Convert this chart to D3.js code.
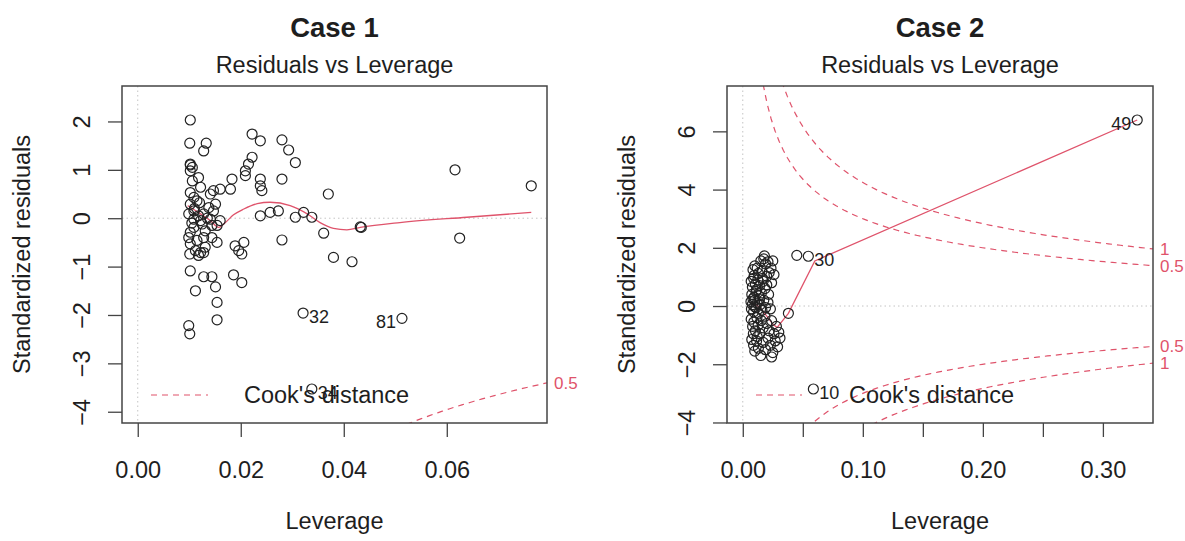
<!doctype html>
<html>
<head>
  <meta charset="utf-8">
</head>
<body style="margin:0">
  <style>
    body {
      font-family: "Liberation Sans", Arial, Helvetica, sans-serif;
      background: #fff;
    }
  </style>
  <div id="chart"></div>

<script src="https://cdnjs.cloudflare.com/ajax/libs/d3/7.8.5/d3.min.js"></script>
<script>
  // Case 1 -- leverage / standardized residuals, the first three are the labelled cases
  var case1Lev = [0.0321, 0.0513, 0.0338,
    0.0102, 0.0101, 0.0133, 0.0128, 0.0102, 0.0106, 0.0102, 0.0118, 0.0222, 0.0238,
    0.0280, 0.0293, 0.0306, 0.0222, 0.0215, 0.0209, 0.0209, 0.0183, 0.0180, 0.0160,
    0.0147, 0.0141, 0.0238, 0.0238, 0.0241, 0.0280, 0.0370, 0.0238, 0.0257, 0.0273,
    0.0306, 0.0322, 0.0338, 0.0280, 0.0361, 0.0380, 0.0416, 0.0432, 0.0434, 0.0616,
    0.0764, 0.0625, 0.0154, 0.0189, 0.0196, 0.0206, 0.0202, 0.0101, 0.0118, 0.0128,
    0.0102, 0.0128, 0.0144, 0.0186, 0.0151, 0.0202, 0.0154, 0.0154, 0.0099, 0.0101,
    0.0112, 0.0102, 0.0109, 0.0102, 0.0109, 0.0118, 0.0128, 0.0138, 0.0147, 0.0141,
    0.0122, 0.0109, 0.0099, 0.0154, 0.0144, 0.0131, 0.0109, 0.0102, 0.0115, 0.0128,
    0.0144, 0.0102, 0.0112, 0.0122, 0.0131, 0.0106, 0.0122, 0.0151, 0.0115, 0.0102,
    0.0110, 0.0125, 0.0135, 0.0160, 0.0105, 0.0120, 0.0099]
  var case1Res = [-1.96, -2.07, -3.53,
    2.03, 1.55, 1.55, 1.39, 1.12, 1.05, 0.98, 0.84, 1.74, 1.60,
    1.62, 1.41, 1.15, 1.26, 1.12, 0.98, 0.88, 0.81, 0.60, 0.60,
    0.57, 0.50, 0.81, 0.67, 0.57, 0.81, 0.50, 0.05, 0.12, 0.15,
    0.02, 0.12, 0.02, -0.45, -0.31, -0.81, -0.90, -0.18, -0.19, 1.00,
    0.67, -0.41, -0.50, -0.57, -0.67, -0.50, -0.74, -0.74, -0.77, -0.71,
    -1.09, -1.21, -1.21, -1.17, -1.42, -1.33, -1.74, -2.10, -2.22, -2.39,
    -1.50, 0.53, 0.43, 0.29, 0.15, 0.05, 0.09, 0.22, 0.15, -0.02,
    -0.05, -0.02, 0.09, -0.15, -0.15, -0.26, -0.19, -0.29, -0.46, -0.40,
    -0.40, -0.53, -0.67, -0.71, -0.60, 0.77, 0.64, 0.29, 0.36, 1.10,
    0.20, -0.12, 0.00, -0.05, -0.10, 0.32, -0.40]
  var case1Ids = ['32', '81', '34']
  var case1SmoothLev = [0.0097, 0.0122, 0.0141, 0.0157, 0.0170, 0.0186, 0.0206, 0.0232, 0.0257,
    0.0296, 0.0329, 0.0354, 0.0380, 0.0406, 0.0432, 0.0509, 0.0639, 0.0764]
  var case1SmoothRes = [0.26, 0.09, -0.05, -0.19, -0.09, 0.07, 0.19, 0.30, 0.33,
    0.26, 0.09, -0.09, -0.21, -0.24, -0.19, -0.09, 0.02, 0.12]
  var case1XTicks = [0, 0.02, 0.04, 0.06]
  var case1XLabels = ['0.00', '0.02', '0.04', '0.06']
  var case1YTicks = [-4, -3, -2, -1, 0, 1, 2]

  // Case 2
  var case2Lev = [0.3286, 0.0546, 0.0588,
    0.0450, 0.0380,
    0.0085, 0.0100, 0.0120, 0.0150, 0.0175, 0.0190, 0.0210, 0.0235, 0.0250, 0.0095,
    0.0130, 0.0160, 0.0200, 0.0220, 0.0260, 0.0180,
    0.0070, 0.0080, 0.0090, 0.0105, 0.0115, 0.0125, 0.0140, 0.0155, 0.0170, 0.0185,
    0.0200, 0.0215, 0.0240, 0.0075, 0.0095, 0.0110, 0.0135, 0.0165,
    0.0068, 0.0072, 0.0080, 0.0090, 0.0100, 0.0110, 0.0120, 0.0130, 0.0145, 0.0160,
    0.0175, 0.0190, 0.0210, 0.0085, 0.0098, 0.0140, 0.0230,
    0.0070, 0.0082, 0.0092, 0.0105, 0.0118, 0.0128, 0.0142, 0.0155, 0.0170, 0.0185,
    0.0200, 0.0220, 0.0240, 0.0260, 0.0280, 0.0300, 0.0088,
    0.0075, 0.0090, 0.0100, 0.0115, 0.0130, 0.0150, 0.0170, 0.0190, 0.0210, 0.0230,
    0.0250, 0.0270, 0.0290, 0.0310, 0.0240, 0.0120]
  var case2Res = [6.39, 1.71, -2.85,
    1.74, -0.25,
    1.25, 1.38, 1.30, 1.55, 1.62, 1.45, 1.52, 1.30, 1.55, 1.05,
    1.12, 1.20, 1.02, 1.15, 1.08, 1.72,
    0.85, 0.65, 0.95, 0.75, 0.55, 0.90, 0.70, 0.45, 0.85, 0.60,
    0.72, 0.40, 0.80, 0.40, 0.30, 0.50, 0.35, 0.95,
    0.15, -0.10, 0.05, -0.20, 0.20, -0.05, 0.10, -0.25, 0.05, -0.15,
    0.20, -0.05, 0.12, 0.25, -0.02, 0.25, -0.10,
    -0.45, -0.70, -0.55, -0.85, -0.40, -0.65, -0.95, -0.50, -0.75, -0.35,
    -0.60, -0.85, -0.50, -0.95, -0.70, -0.90, -0.95,
    -1.15, -1.35, -1.55, -1.20, -1.45, -1.70, -1.25, -1.50, -1.10, -1.35,
    -1.60, -1.20, -1.40, -1.10, -1.75, -1.05]
  var case2Ids = ['49', '30', '10']
  var case2SmoothLev = [0.0065, 0.0110, 0.0150, 0.0200, 0.0250, 0.0285, 0.0380, 0.0600, 0.3286]
  var case2SmoothRes = [0.12, 0.05, -0.08, -0.35, -0.62, -0.74, -0.25, 1.55, 6.39]
  var case2XTicks = [0, 0.05, 0.1, 0.15, 0.2, 0.25, 0.3]
  var case2XLabels = ['0.00', '', '0.10', '', '0.20', '', '0.30']
  var case2YTicks = [-4, -2, 0, 2, 4, 6]

  // Cook's distance contours
  var cookLevels = [0.5, 1]
  var numParams = 2

  var width = 1185
  var height = 541
  var red = '#df536b'
  var ink = '#1e1e1e'
  var fontSize = 23.5

  var svg = d3.select('#chart')
    .append('svg')
    .attr('width', width)
    .attr('height', height)
    .style('background', '#fff')

  var panels = [
    { title: 'Case 1', lev: case1Lev, res: case1Res, ids: case1Ids,
      smoothLev: case1SmoothLev, smoothRes: case1SmoothRes, curve: d3.curveMonotoneX,
      xTicks: case1XTicks, xLabels: case1XLabels, yTicks: case1YTicks,
      left: 122, right: 547, top: 86, bottom: 423, legendEnd: 86 },
    { title: 'Case 2', lev: case2Lev, res: case2Res, ids: case2Ids,
      smoothLev: case2SmoothLev, smoothRes: case2SmoothRes, curve: d3.curveLinear,
      xTicks: case2XTicks, xLabels: case2XLabels, yTicks: case2YTicks,
      left: 727, right: 1153, top: 86, bottom: 423, legendEnd: 75 }
  ]

  panels.forEach(drawPanel)

  function drawPanel(p, k) {
    var g = svg.append('g')

    // R style limits: xlim = c(0, max), ylim extended by 8%, then 4% axis padding
    var xMax = d3.max(p.lev)
    var x = d3.scaleLinear()
      .domain([-0.04 * xMax, 1.04 * xMax])
      .range([p.left, p.right])
    var ext = d3.extent(p.res)
    var lo = ext[0] - 0.08 * (ext[1] - ext[0])
    var hi = ext[1] + 0.08 * (ext[1] - ext[0])
    var y = d3.scaleLinear()
      .domain([lo - 0.04 * (hi - lo), hi + 0.04 * (hi - lo)])
      .range([p.bottom, p.top])

    var clipId = 'clip' + k
    svg.append('clipPath').attr('id', clipId)
      .append('rect')
      .attr('x', p.left).attr('y', p.top)
      .attr('width', p.right - p.left).attr('height', p.bottom - p.top)

    var cx = (p.left + p.right) / 2

    g.append('text')
      .text(p.title)
      .attr('x', cx).attr('y', 37)
      .attr('text-anchor', 'middle')
      .attr('font-weight', 'bold')
      .attr('font-size', 27.5)
      .attr('fill', ink)

    g.append('text')
      .text('Residuals vs Leverage')
      .attr('x', cx).attr('y', 73)
      .attr('text-anchor', 'middle')
      .attr('font-size', fontSize)
      .attr('fill', ink)

    // dotted zero lines
    g.append('line')
      .attr('x1', p.left).attr('x2', p.right)
      .attr('y1', y(0)).attr('y2', y(0))
      .attr('stroke', '#c4c4c4').attr('stroke-dasharray', '1.5,3')
    g.append('line')
      .attr('x1', x(0)).attr('x2', x(0))
      .attr('y1', p.top).attr('y2', p.bottom)
      .attr('stroke', '#c4c4c4').attr('stroke-dasharray', '1.5,3')

    // Cook's distance contours, sqrt(level * p * (1 - h) / h)
    var hMin = Math.min(d3.min(p.lev), xMax / 100)
    var hEnd = x.domain()[1]
    var hh = d3.range(101).map(i => hMin + (hEnd - hMin) * i / 100)
    var cook = (c, h) => Math.sqrt(c * numParams * (1 - h) / h)

    var contours = g.append('g').attr('clip-path', `url(#${clipId})`)
    cookLevels.forEach(c => {
      [1, -1].forEach(s => {
        contours.append('path')
          .datum(hh)
          .attr('d', d3.line().x(h => x(h)).y(h => y(s * cook(c, h))))
          .attr('fill', 'none')
          .attr('stroke', red)
          .attr('stroke-width', 1.2)
          .attr('stroke-dasharray', '6,5')
      })
    })

    // contour labels on the right side
    var yDom = y.domain()
    cookLevels.forEach(c => {
      [1, -1].forEach(s => {
        var v = s * cook(c, hEnd)
        if (v < yDom[0] || v > yDom[1]) return
        g.append('text')
          .text(c)
          .attr('x', p.right + 7)
          .attr('y', y(v))
          .attr('dy', '0.35em')
          .attr('font-size', 17)
          .attr('fill', red)
      })
    })

    // smoother
    g.append('path')
      .datum(d3.zip(p.smoothLev, p.smoothRes))
      .attr('clip-path', `url(#${clipId})`)
      .attr('d', d3.line().curve(p.curve).x(d => x(d[0])).y(d => y(d[1])))
      .attr('fill', 'none')
      .attr('stroke', red)
      .attr('stroke-width', 1.3)

    // points
    var pts = d3.zip(p.lev, p.res)
    g.append('g')
      .selectAll('circle')
      .data(pts)
      .enter().append('circle')
      .attr('cx', d => x(d[0]))
      .attr('cy', d => y(d[1]))
      .attr('r', 5)
      .attr('fill', 'none')
      .attr('stroke', '#222')
      .attr('stroke-width', 1.2)

    // labels of the three largest Cook's distances
    var midX = d3.mean(d3.extent(p.lev))
    p.ids.forEach((id, i) => {
      var d = pts[i]
      var onLeft = d[0] > midX
      g.append('text')
        .text(id)
        .attr('x', x(d[0]) + (onLeft ? -6 : 6))
        .attr('y', y(d[1]))
        .attr('dy', '0.55em')
        .attr('text-anchor', onLeft ? 'end' : 'start')
        .attr('font-size', 18)
        .attr('fill', ink)
    })

    // legend
    g.append('line')
      .attr('x1', p.left + 29).attr('x2', p.left + p.legendEnd)
      .attr('y1', 395).attr('y2', 395)
      .attr('stroke', red)
      .attr('stroke-width', 1.1)
      .attr('stroke-dasharray', '6,5')
    g.append('text')
      .text("Cook's distance")
      .attr('x', p.left + 122)
      .attr('y', 395)
      .attr('dy', '0.35em')
      .attr('font-size', fontSize)
      .attr('fill', ink)

    // axes
    var xAxis = g.append('g')
      .attr('transform', `translate(0,${p.bottom})`)
      .call(d3.axisBottom(x)
        .tickValues(p.xTicks)
        .tickFormat((d, i) => p.xLabels[i])
        .tickSize(14)
        .tickPadding(24))
    xAxis.select('.domain').remove()

    var yAxis = g.append('g')
      .attr('transform', `translate(${p.left},0)`)
      .call(d3.axisLeft(y)
        .tickValues(p.yTicks)
        .tickFormat(d3.format('d'))
        .tickSize(14))
    yAxis.select('.domain').remove()
    yAxis.selectAll('text')
      .attr('x', 0)
      .attr('dy', '0.35em')
      .attr('text-anchor', 'middle')
      .attr('transform', 'translate(-40,0) rotate(-90)')

    g.selectAll('.tick line').attr('stroke', '#444').attr('stroke-width', 1.3)
    g.selectAll('.tick text')
      .attr('font-size', fontSize)
      .attr('font-family', '"Liberation Sans", Arial, sans-serif')
      .attr('fill', ink)

    g.append('rect')
      .attr('x', p.left).attr('y', p.top)
      .attr('width', p.right - p.left).attr('height', p.bottom - p.top)
      .attr('fill', 'none')
      .attr('stroke', '#444')
      .attr('stroke-width', 1.5)

    g.append('text')
      .text('Leverage')
      .attr('x', cx).attr('y', 529)
      .attr('text-anchor', 'middle')
      .attr('font-size', fontSize)
      .attr('fill', ink)

    g.append('text')
      .text('Standardized residuals')
      .attr('transform', `translate(${p.left - 100},${(p.top + p.bottom) / 2}) rotate(-90)`)
      .attr('dy', '0.35em')
      .attr('text-anchor', 'middle')
      .attr('font-size', fontSize)
      .attr('fill', ink)
  }
</script>
</body>
</html>
